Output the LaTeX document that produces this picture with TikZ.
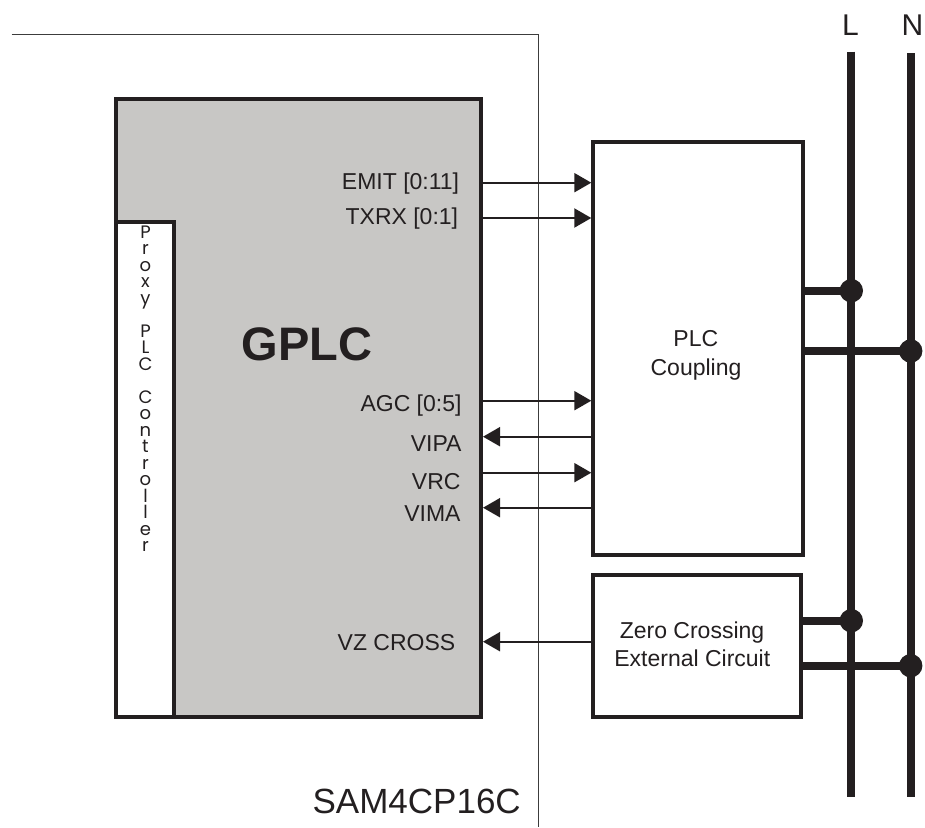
\documentclass[tikz,border=0pt]{standalone}
\usepackage{fontspec}
\setmainfont{Liberation Sans}
\newfontfamily\proxyfont{Poppins}
\usetikzlibrary{arrows.meta}
\definecolor{ink}{HTML}{231F20}
\definecolor{chipgray}{HTML}{C8C7C5}
\definecolor{framegray}{HTML}{3C3C3C}
\begin{document}
\begin{tikzpicture}[x=1pt,y=-1pt,
  blk/.style={draw=ink, line width=4pt, rectangle, inner sep=0pt},
  sig/.style={draw=ink, line width=2pt, -{Triangle[length=17pt,width=19pt]}},
  lab/.style={font=\fontsize{23}{27}\selectfont, text=ink, inner sep=0pt, anchor=base east},
  boxtext/.style={font=\fontsize{23}{27}\selectfont, text=ink, inner sep=0pt, anchor=base},
  bus/.style={draw=ink, line width=8pt},
  junction/.style={circle, fill=ink, minimum size=23.4pt, inner sep=0pt},
  proxyletter/.style={font=\proxyfont\fontsize{18}{20}\selectfont, text=ink, inner sep=0pt, anchor=base},
  frame/.style={draw=framegray, line width=1.6pt}]
\useasboundingbox (0,0) rectangle (925,827);
% chip frame
\coordinate (f1) at (11.5,34.3);
\coordinate (f2) at (538.5,34.3);
\coordinate (f3) at (538.5,827);
\draw[frame] (f1) -- (f2) -- (f3);
\node[font=\fontsize{35}{40}\selectfont, text=ink, inner sep=0pt, anchor=base] (chip) at (416.7,813.3) {SAM4CP16C};
% GPLC block
\node[blk, fill=chipgray, minimum width=365pt, minimum height=617.7pt] (gplc) at (298.5,408.15) {};
\node[blk, fill=white, minimum width=58pt, minimum height=495pt] (proxy) at (145,469.5) {};
\foreach \ch/\k in {P/0,r/1,o/2,x/3,y/4,P/6,L/7,C/8,C/10,o/11,n/12,t/13,r/14,o/15,l/16,l/17,e/18,r/19}
  \node[proxyletter] (px\k) at (145.5,238+16.5*\k) {\ch};
\node[font=\bfseries\fontsize{47}{52}\selectfont, text=ink, inner sep=0pt, anchor=base] (gtitle) at (306.8,360) {GPLC};
% external blocks
\node[blk, fill=white, minimum width=209.4pt, minimum height=413.3pt] (coup) at (698,348.65) {};
\node[boxtext] (pc1) at (695.8,346.7) {PLC};
\node[boxtext] (pc2) at (696,375.5) {Coupling};
\node[blk, fill=white, minimum width=208pt, minimum height=142pt] (zc) at (696.7,646.3) {};
\node[boxtext] (zc1) at (692,638.3) {Zero Crossing};
\node[boxtext] (zc2) at (692.3,666.7) {External Circuit};
% signal labels
\node[lab] (lemit) at (459.3,189.5) {EMIT [0:11]};
\node[lab] (ltxrx) at (458.3,224) {TXRX [0:1]};
\node[lab] (lagc) at (461.7,411.5) {AGC [0:5]};
\node[lab] (lvipa) at (461.7,451.7) {VIPA};
\node[lab] (lvrc) at (460.7,489.3) {VRC};
\node[lab] (lvima) at (460.7,521.5) {VIMA};
\node[lab] (lvz) at (455.5,650) {VZ CROSS};
% signal levels
\coordinate (yemit) at (0,182.7);
\coordinate (ytxrx) at (0,218);
\coordinate (yagc) at (0,400.7);
\coordinate (yvipa) at (0,436.7);
\coordinate (yvrc) at (0,472.7);
\coordinate (yvima) at (0,507.7);
\coordinate (yvz) at (0,641.7);
\draw[sig] (gplc.east |- yemit) -- (coup.west |- yemit);
\draw[sig] (gplc.east |- ytxrx) -- (coup.west |- ytxrx);
\draw[sig] (gplc.east |- yagc) -- (coup.west |- yagc);
\draw[sig] (coup.west |- yvipa) -- (gplc.east |- yvipa);
\draw[sig] (gplc.east |- yvrc) -- (coup.west |- yvrc);
\draw[sig] (coup.west |- yvima) -- (gplc.east |- yvima);
\draw[sig] (zc.west |- yvz) -- (gplc.east |- yvz);
% mains lines
\node[font=\fontsize{30}{34}\selectfont, text=ink, inner sep=0pt, anchor=base] (Llab) at (850.5,35) {L};
\node[font=\fontsize{30}{34}\selectfont, text=ink, inner sep=0pt, anchor=base] (Nlab) at (912.5,35) {N};
\coordinate (Ltop) at (851.3,51.7);
\coordinate (Lbot) at (851.3,797.3);
\coordinate (Ntop) at (910.7,53.3);
\coordinate (Nbot) at (910.7,797.3);
\draw[bus] (Ltop) -- (Lbot);
\draw[bus] (Ntop) -- (Nbot);
\node[junction] (j1) at (851.3,290.7) {};
\node[junction] (j2) at (910.7,351) {};
\node[junction] (j3) at (851.3,620.7) {};
\node[junction] (j4) at (910.7,665.7) {};
\draw[bus] (coup.east |- j1) -- (j1.center);
\draw[bus] (coup.east |- j2) -- (j2.center);
\draw[bus] (zc.east |- j3) -- (j3.center);
\draw[bus] (zc.east |- j4) -- (j4.center);
\end{tikzpicture}
\end{document}
